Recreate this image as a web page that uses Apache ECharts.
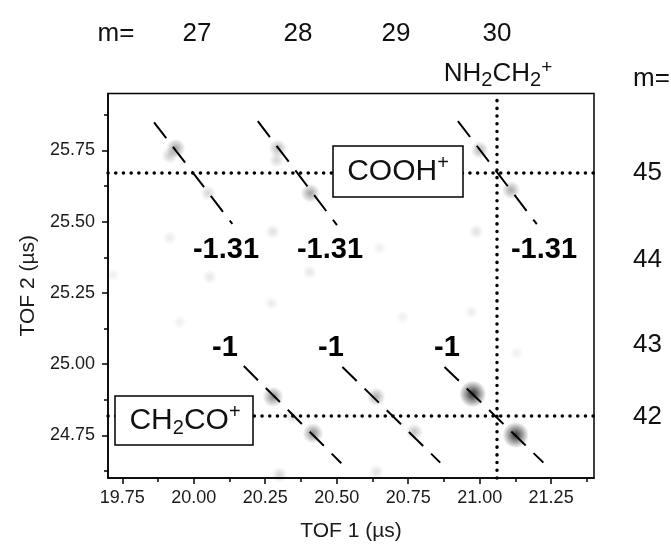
<!DOCTYPE html>
<html><head><meta charset="utf-8">
<script src="https://cdn.jsdelivr.net/npm/echarts@6/dist/echarts.min.js"></script>
<style>html,body{margin:0;padding:0;background:#fff}#c{width:671px;height:544px}</style>
</head><body><div id="c"></div>
<script>
// ---- data ----
const xMin = 19.7, xMax = 21.4, yMin = 24.6, yMax = 25.95;
const xTickLabels = [19.75, 20.00, 20.25, 20.50, 20.75, 21.00, 21.25];
const xMinorTicks = [19.875, 20.125, 20.375, 20.625, 20.875, 21.125, 21.375];
const yTickLabels = [24.75, 25.00, 25.25, 25.50, 25.75];
const yMinorTicks = [24.625, 24.875, 25.125, 25.375, 25.625, 25.875];

// coincidence spots: TOF1, TOF2, relative intensity
const spotX = [19.937, 19.916, 20.050, 20.294, 20.290, 20.408, 20.276, 21.000, 21.110, 20.988,
               20.277, 20.417, 20.638, 20.772, 20.976, 21.126,
               19.916, 20.056, 19.716, 20.405, 20.650, 20.300, 20.346, 19.951, 20.272, 20.639, 20.971, 21.129, 20.730];
const spotY = [25.758, 25.732, 25.600, 25.758, 25.717, 25.600, 25.465, 25.752, 25.611, 25.465,
               24.885, 24.757, 24.885, 24.762, 24.895, 24.751,
               25.443, 25.306, 25.313, 25.323, 25.407, 24.611, 24.814, 25.148, 25.214, 24.621, 25.183, 25.039, 25.165];
const spotI = [0.45, 0.25, 0.20, 0.35, 0.20, 0.45, 0.15, 0.35, 0.40, 0.15,
               0.55, 0.55, 0.40, 0.30, 1.00, 0.95,
               0.10, 0.12, 0.08, 0.12, 0.08, 0.20, 0.15, 0.08, 0.10, 0.15, 0.10, 0.08, 0.08];

// dashed slope lines (start, end) in TOF1/TOF2
const slopeStart = [[19.861, 25.849], [20.224, 25.853], [20.924, 25.853], [20.175, 24.993], [20.520, 24.990], [20.877, 24.990]];
const slopeEnd   = [[20.135, 25.492], [20.501, 25.488], [21.200, 25.491], [20.516, 24.652], [20.862, 24.654], [21.223, 24.654]];
const slopeLabels = ['-1.31', '-1.31', '-1.31', '-1', '-1', '-1'];

// dotted guide lines
const guideY = [25.672, 24.82];
const guideX = [21.06];

const topMassLabels = ['27', '28', '29', '30'];
const rightMassLabels = ['45', '44', '43', '42'];

// ---- chart ----
const FONT = '"Liberation Sans", Arial, Helvetica, sans-serif';
const chart = echarts.init(document.getElementById('c'), null, {renderer: 'canvas'});

function blob(i) {
  const a = spotI[i];
  return new echarts.graphic.RadialGradient(0.5, 0.5, 0.5, [
    {offset: 0, color: 'rgba(0,0,0,' + a + ')'},
    {offset: 0.3, color: 'rgba(0,0,0,' + (a * 0.75) + ')'},
    {offset: 1, color: 'rgba(0,0,0,0)'}
  ]);
}

const spotData = spotX.map((x, i) => ({
  value: [x, spotY[i]],
  symbolSize: 13 + 14 * spotI[i],
  itemStyle: {color: blob(i)}
}));

const slopeSeries = slopeStart.map((s, i) => ({
  type: 'line', silent: true, symbol: 'none', z: 4,
  data: [s, slopeEnd[i]],
  lineStyle: {color: '#000', width: 2, type: [20, 11]}
}));

const axisCommon = {
  type: 'value', splitLine: {show: false}
};

const labelPx = [[226, 250], [330, 250], [544, 250], [225, 348], [331, 348], [447, 348]];
const topPx = [197, 298, 396, 497];
const rightPy = [173, 260, 345, 417];

const graphics = [];
function txt(x, y, text, size, extra) {
  graphics.push(Object.assign({
    type: 'text', x: x, y: y, z: 100,
    style: Object.assign({text: text, fontSize: size, fontFamily: FONT, fill: '#111',
      align: 'center', verticalAlign: 'middle'}, extra || {})
  }));
}
txt(116, 34, 'm=', 26);
topMassLabels.forEach((t, i) => txt(topPx[i], 34, t, 26));
txt(633, 79, 'm=', 26, {align: 'left'});
rightMassLabels.forEach((t, i) => txt(633, rightPy[i], t, 26, {align: 'left'}));
slopeLabels.forEach((t, i) => txt(labelPx[i][0], labelPx[i][1], t, 29, {fontWeight: 'bold', fill: '#000'}));

// NH2CH2+
graphics.push({
  type: 'text', x: 498, y: 74, z: 100,
  style: {
    text: '{a|NH}{s|2}{a|CH}{s|2}{p|+}', align: 'center', verticalAlign: 'middle',
    rich: {
      a: {fontSize: 26, lineHeight: 32, fontFamily: FONT, fill: '#111'},
      s: {fontSize: 20, lineHeight: 6, verticalAlign: 'bottom', fontFamily: FONT, fill: '#111'},
      p: {fontSize: 19, lineHeight: 12, verticalAlign: 'top', fontFamily: FONT, fill: '#111'}
    }
  }
});

const boxRich = {
  a: {fontSize: 30, lineHeight: 36, fontFamily: FONT, fill: '#111'},
  s: {fontSize: 20, lineHeight: 10, verticalAlign: 'bottom', fontFamily: FONT, fill: '#111'},
  p: {fontSize: 20, lineHeight: 32, verticalAlign: 'top', fontFamily: FONT, fill: '#111'}
};
// COOH+ box
graphics.push({type: 'rect', z: 99, shape: {x: 333, y: 146, width: 130, height: 51},
  style: {fill: '#fff', stroke: '#000', lineWidth: 1.5}});
graphics.push({type: 'text', x: 398, y: 171.5, z: 100,
  style: {text: '{a|COOH}{p|+}', align: 'center', verticalAlign: 'middle', rich: boxRich}});
// CH2CO+ box
graphics.push({type: 'rect', z: 99, shape: {x: 115, y: 396, width: 138, height: 49},
  style: {fill: '#fff', stroke: '#000', lineWidth: 1.5}});
graphics.push({type: 'text', x: 185, y: 420.5, z: 100,
  style: {text: '{a|CH}{s|2}{a|CO}{p|+}', align: 'center', verticalAlign: 'middle', rich: boxRich}});

const option = {
  animation: false,
  backgroundColor: '#fff',
  grid: {left: 108, right: 77, top: 93.5, bottom: 66, show: true, borderColor: '#000', borderWidth: 1.5,
         backgroundColor: '#fff', containLabel: false, outerBoundsMode: 'none'},
  xAxis: [
    Object.assign({}, axisCommon, {
      min: xMin, max: xMax, position: 'bottom',
      axisLine: {show: true, onZero: false, lineStyle: {color: '#000', width: 1.5}},
      axisTick: {show: true, customValues: xTickLabels, length: 6, lineStyle: {color: '#000', width: 1.5}},
      axisLabel: {customValues: xTickLabels, formatter: v => v.toFixed(2), fontSize: 18, color: '#1a1a1a',
                  fontFamily: FONT, margin: 11},
      name: 'TOF 1 (µs)', nameLocation: 'middle', nameGap: 43,
      nameTextStyle: {fontSize: 21, color: '#1a1a1a', fontFamily: FONT}
    }),
    Object.assign({}, axisCommon, {
      min: xMin, max: xMax, position: 'bottom',
      axisLine: {show: false},
      axisTick: {show: true, customValues: xMinorTicks, length: 4, lineStyle: {color: '#000', width: 1.5}},
      axisLabel: {show: false}
    })
  ],
  yAxis: [
    Object.assign({}, axisCommon, {
      min: yMin, max: yMax, position: 'left',
      axisLine: {show: true, onZero: false, lineStyle: {color: '#000', width: 1.5}},
      axisTick: {show: true, customValues: yTickLabels, length: 6, lineStyle: {color: '#000', width: 1.5}},
      axisLabel: {customValues: yTickLabels, formatter: v => v.toFixed(2), fontSize: 18, color: '#1a1a1a',
                  fontFamily: FONT, margin: 13},
      name: 'TOF 2 (µs)', nameLocation: 'middle', nameGap: 68,
      nameTextStyle: {fontSize: 21, color: '#1a1a1a', fontFamily: FONT}
    }),
    Object.assign({}, axisCommon, {
      min: yMin, max: yMax, position: 'left',
      axisLine: {show: false},
      axisTick: {show: true, customValues: yMinorTicks, length: 4, lineStyle: {color: '#000', width: 1.5}},
      axisLabel: {show: false}
    })
  ],
  series: [
    {type: 'scatter', silent: true, z: 2, data: spotData, xAxisIndex: 0, yAxisIndex: 0},
    ...slopeSeries,
    {
      type: 'line', silent: true, data: [], z: 5,
      markLine: {
        silent: true, symbol: 'none', animation: false,
        label: {show: false},
        lineStyle: {color: '#000', width: 3.5, type: [0.1, 7.6], cap: 'round'},
        emphasis: {disabled: true},
        data: guideY.map(v => ({yAxis: v})).concat(guideX.map(v => ({xAxis: v})))
      }
    }
  ],
  graphic: graphics
};
chart.setOption(option);
</script>
</body></html>
